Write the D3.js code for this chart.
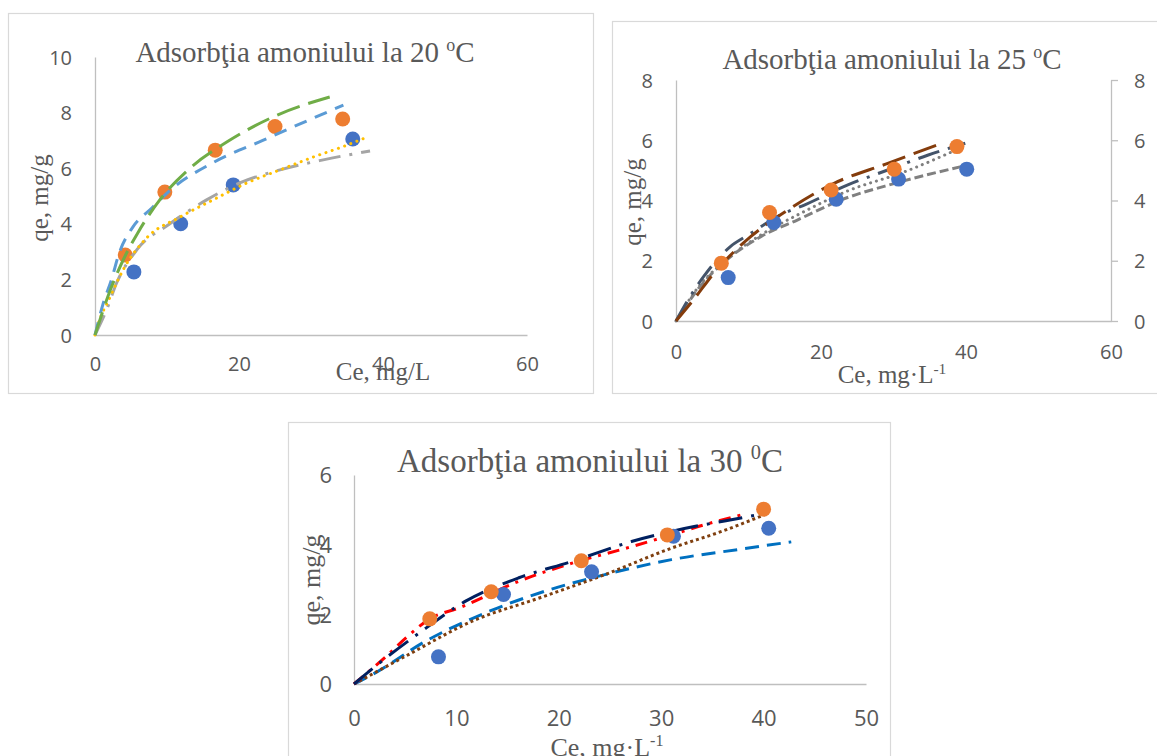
<!DOCTYPE html>
<html>
<head>
<meta charset="utf-8">
<script src="https://cdn.jsdelivr.net/npm/d3@7"></script>
<style>
  body { margin: 0; background: #fff; }
  svg { display: block; }
</style>
</head>
<body>
<div id="chart"></div>
<script>
// ---- 20 C ----
var p1XTicks = [0, 20, 40, 60];
var p1YTicks = [0, 2, 4, 6, 8, 10];
var p1Blue = [[5.4, 2.27], [11.9, 4.0], [19.2, 5.4], [35.8, 7.05]];
var p1Orange = [[4.2, 2.88], [9.7, 5.14], [16.7, 6.65], [25, 7.5], [34.4, 7.77]];
var p1Green = [[0, 0], [2.1, 1.6], [4.2, 2.85], [6, 3.7], [9, 4.86], [13.2, 6.0], [18.3, 6.94], [25.3, 7.91], [32.6, 8.56]];
var p1LightBlue = [[0, 0], [1.1, 1.1], [2.3, 2.0], [3.3, 2.9], [5.3, 3.9], [7.9, 4.57], [10.4, 5.2], [16.4, 6.2], [23.3, 7.0], [30.3, 7.8], [34.5, 8.27]];
var p1Yellow = [[0, 0], [0.4, 0.36], [2.1, 1.37], [3.9, 2.34], [7.2, 3.5], [11.8, 4.24], [16.4, 4.86], [21.1, 5.47], [25.7, 5.94], [30.3, 6.4], [35, 6.83], [37.8, 7.12]];
var p1Gray = [[0, 0], [1.6, 0.9], [3.0, 1.87], [5.8, 3.06], [10.4, 4.0], [15.5, 4.86], [20.1, 5.47], [25.7, 5.94], [31.7, 6.3], [38.2, 6.62]];

// ---- 25 C ----
var p2XTicks = [0, 20, 40, 60];
var p2YTicks = [0, 2, 4, 6, 8];
var p2Blue = [[7.2, 1.44], [13.5, 3.27], [22.1, 4.04], [30.7, 4.71], [40.1, 5.04]];
var p2Orange = [[6.25, 1.92], [12.9, 3.6], [21.4, 4.35], [30.1, 5.04], [38.75, 5.79]];
var p2Brown = [[0, 0], [2.4, 0.7], [5.2, 1.58], [10.3, 2.8], [14.9, 3.6], [21.8, 4.57], [29.3, 5.24], [36.4, 5.88]];
var p2Slate = [[0, 0], [1.94, 0.81], [3.8, 1.47], [7.5, 2.47], [10, 2.86], [14.4, 3.52], [17.7, 3.85], [23.7, 4.52], [29.3, 5.02], [34.8, 5.51], [39.9, 5.9]];
var p2GrayDash = [[0, 0], [3.3, 1.14], [7.0, 2.03], [11.7, 2.8], [16.8, 3.36], [22.8, 4.02], [30.2, 4.57], [39.4, 5.13]];
var p2GrayDot = [[0, 0], [3, 1.1], [7, 2.05], [12, 2.9], [17, 3.55], [23.5, 4.3], [31.6, 4.96], [39.2, 5.74]];

// ---- 30 C ----
var p3XTicks = [0, 10, 20, 30, 40, 50];
var p3YTicks = [0, 2, 4, 6];
var p3Blue = [[8.25, 0.78], [14.6, 2.57], [23.2, 3.22], [31.2, 4.24], [40.5, 4.47]];
var p3Orange = [[7.4, 1.87], [13.4, 2.65], [22.2, 3.54], [30.6, 4.28], [40, 5.02]];
var p3Red = [[0, 0], [3.2, 0.81], [5.1, 1.33], [7.4, 1.87], [10.3, 2.19], [16.1, 2.95], [21.3, 3.47], [26.1, 3.86], [31, 4.28], [34.2, 4.57], [38.3, 4.89]];
var p3Navy = [[0, 0], [2.05, 0.5], [6.4, 1.47], [10.9, 2.38], [16.1, 3.05], [21.3, 3.52], [27.1, 4.09], [31, 4.38], [38, 4.78], [40.2, 4.9]];
var p3BlueDash = [[0, 0], [1.9, 0.29], [7.06, 1.24], [12.9, 2.05], [18.7, 2.67], [24.5, 3.14], [31, 3.57], [37.5, 3.86], [42.7, 4.08]];
var p3BrownDot = [[0, 0], [5.1, 0.81], [11.6, 1.81], [18.1, 2.47], [24.5, 3.14], [31, 3.9], [35.9, 4.38], [40.1, 4.86]];

var W = 1157, H = 756;
var textCol = "#595959",
    axisCol = "#BFBFBF",
    serif = "'Liberation Serif', 'Times New Roman', serif",
    sans = "'Open Sans', 'Liberation Sans', sans-serif";

var svg = d3.select("#chart").append("svg")
    .attr("width", W)
    .attr("height", H);
svg.append("rect").attr("width", W).attr("height", H).attr("fill", "#fff");

function styleAxis(ax, size) {
  ax.attr("font-family", sans).attr("font-size", size);
  ax.select(".domain").attr("stroke", axisCol).attr("stroke-width", 1.3);
  ax.selectAll(".tick line").attr("stroke", axisCol).attr("stroke-width", 1.3);
  ax.selectAll("text").attr("fill", textCol);
}

function supText(g, o) {
  // text with a raised part, e.g. "o" in oC or "-1" in L-1
  var t = g.append("text")
      .attr("font-family", serif)
      .attr("font-size", o.size)
      .attr("fill", textCol)
      .attr("text-anchor", "middle");
  if (o.rotate) t.attr("transform", "translate(" + o.x + "," + o.y + ") rotate(-90)");
  else t.attr("x", o.x).attr("y", o.y);
  t.append("tspan").text(o.pre);
  if (o.sup) {
    t.append("tspan").attr("font-size", o.size * 0.62).attr("dy", -o.size * 0.38).text(o.sup);
    if (o.post) t.append("tspan").attr("dy", o.size * 0.38).text(o.post);
  }
}

function panel(o) {
  var x = d3.scaleLinear().domain([0, o.xMax]).range([o.x0, o.x1]),
      y = d3.scaleLinear().domain([0, o.yMax]).range([o.y0, o.y1]);
  var fmt = d3.format("d");
  var g = svg.append("g");

  g.append("rect")
      .attr("x", o.box[0] + 0.5).attr("y", o.box[1] + 0.5)
      .attr("width", o.box[2]).attr("height", o.box[3])
      .attr("fill", "#fff").attr("stroke", "#D9D9D9").attr("stroke-width", 1.2);

  var ax = g.append("g")
      .attr("transform", "translate(0," + o.y0 + ")")
      .call(d3.axisBottom(x).tickValues(o.xTicks).tickFormat(fmt).tickSize(0).tickSizeOuter(0));
  styleAxis(ax, o.tick);
  ax.selectAll("text").attr("y", o.xLabOff).attr("dy", "0.35em");

  var ay = g.append("g")
      .attr("transform", "translate(" + o.x0 + ",0)")
      .call(d3.axisLeft(y).tickValues(o.yTicks).tickFormat(fmt).tickSize(0).tickSizeOuter(0).tickPadding(o.yLabOff));
  styleAxis(ay, o.tick);
  ay.selectAll("text").attr("dy", "0.35em");

  if (o.rightAxis) {
    var ar = g.append("g")
        .attr("transform", "translate(" + o.x1 + ",0)")
        .call(d3.axisRight(y).tickValues(o.yTicks).tickFormat(fmt).tickSize(7).tickSizeOuter(0).tickPadding(16));
    styleAxis(ar, o.tick);
    ar.selectAll("text").attr("dy", "0.35em");
  }

  var line = d3.line()
      .curve(d3.curveMonotoneX)
      .x(function(d) { return x(d[0]); })
      .y(function(d) { return y(d[1]); });

  function drawLines() {
    o.lines.forEach(function(s) {
      g.append("path")
          .datum(s.data)
          .attr("d", line)
          .attr("fill", "none")
          .attr("stroke", s.color)
          .attr("stroke-width", s.width || 3)
          .attr("stroke-linecap", s.cap || "butt")
          .attr("stroke-dasharray", s.dash);
    });
  }
  function drawPoints() {
    o.points.forEach(function(s) {
      g.append("g").selectAll("circle")
          .data(s.data)
          .enter().append("circle")
          .attr("cx", function(d) { return x(d[0]); })
          .attr("cy", function(d) { return y(d[1]); })
          .attr("r", 7.5)
          .attr("fill", s.color);
    });
  }
  if (o.linesOnTop) { drawPoints(); drawLines(); }
  else { drawLines(); drawPoints(); }

  o.texts.forEach(function(t) { supText(g, t); });
}

panel({
  box: [8, 13, 585, 380],
  x0: 95, x1: 527, y0: 335, y1: 57, xMax: 60, yMax: 10,
  xTicks: p1XTicks, yTicks: p1YTicks, tick: 20, xLabOff: 29, yLabOff: 23,
  linesOnTop: true,
  points: [{data: p1Blue, color: "#4472C4"}, {data: p1Orange, color: "#ED7D31"}],
  lines: [
    {data: p1Gray, color: "#A5A5A5", dash: "22 9 3 9"},
    {data: p1Yellow, color: "#FFC000", dash: "0.1 6.5", cap: "round"},
    {data: p1LightBlue, color: "#5B9BD5", dash: "13 9"},
    {data: p1Green, color: "#70AD47", dash: "24 9"}
  ],
  texts: [
    {x: 305, y: 62, size: 29, pre: "Adsorbţia amoniului la 20 ", sup: "o", post: "C"},
    {x: 48, y: 198, size: 25, pre: "qe, mg/g", rotate: true},
    {x: 383, y: 380, size: 25, pre: "Ce, mg/L"}
  ]
});

panel({
  box: [612, 21, 560, 372],
  x0: 676, x1: 1111, y0: 321, y1: 80, xMax: 60, yMax: 8,
  xTicks: p2XTicks, yTicks: p2YTicks, tick: 20, xLabOff: 31, yLabOff: 23,
  rightAxis: true,
  points: [{data: p2Blue, color: "#4472C4"}, {data: p2Orange, color: "#ED7D31"}],
  lines: [
    {data: p2GrayDash, color: "#808080", dash: "9 4"},
    {data: p2GrayDot, color: "#7F7F7F", dash: "0.1 6", cap: "round"},
    {data: p2Slate, color: "#44546A", dash: "22 9 3 9"},
    {data: p2Brown, color: "#843C0C", dash: "24 9"}
  ],
  texts: [
    {x: 892, y: 69, size: 29, pre: "Adsorbţia amoniului la 25 ", sup: "o", post: "C"},
    {x: 641, y: 202, size: 25, pre: "qe, mg/g", rotate: true},
    {x: 892, y: 383, size: 25, pre: "Ce, mg\u00b7L", sup: "-1"}
  ]
});

panel({
  box: [288, 422, 602, 340],
  x0: 354, x1: 866, y0: 684, y1: 475, xMax: 50, yMax: 6,
  xTicks: p3XTicks, yTicks: p3YTicks, tick: 22, xLabOff: 34, yLabOff: 22,
  points: [{data: p3Blue, color: "#4472C4"}, {data: p3Orange, color: "#ED7D31"}],
  lines: [
    {data: p3BlueDash, color: "#0070C0", dash: "14 8"},
    {data: p3BrownDot, color: "#7F3F0F", dash: "3 3"},
    {data: p3Red, color: "#FF0000", dash: "12 7 3 7"},
    {data: p3Navy, color: "#002060", dash: "24 9 3 9"}
  ],
  texts: [
    {x: 590, y: 472, size: 33, pre: "Adsorbţia amoniului la 30 ", sup: "0", post: "C"},
    {x: 320, y: 580, size: 26, pre: "qe, mg/g", rotate: true},
    {x: 607, y: 756, size: 26, pre: "Ce, mg\u00b7L", sup: "-1"}
  ]
});
</script>
</body>
</html>
